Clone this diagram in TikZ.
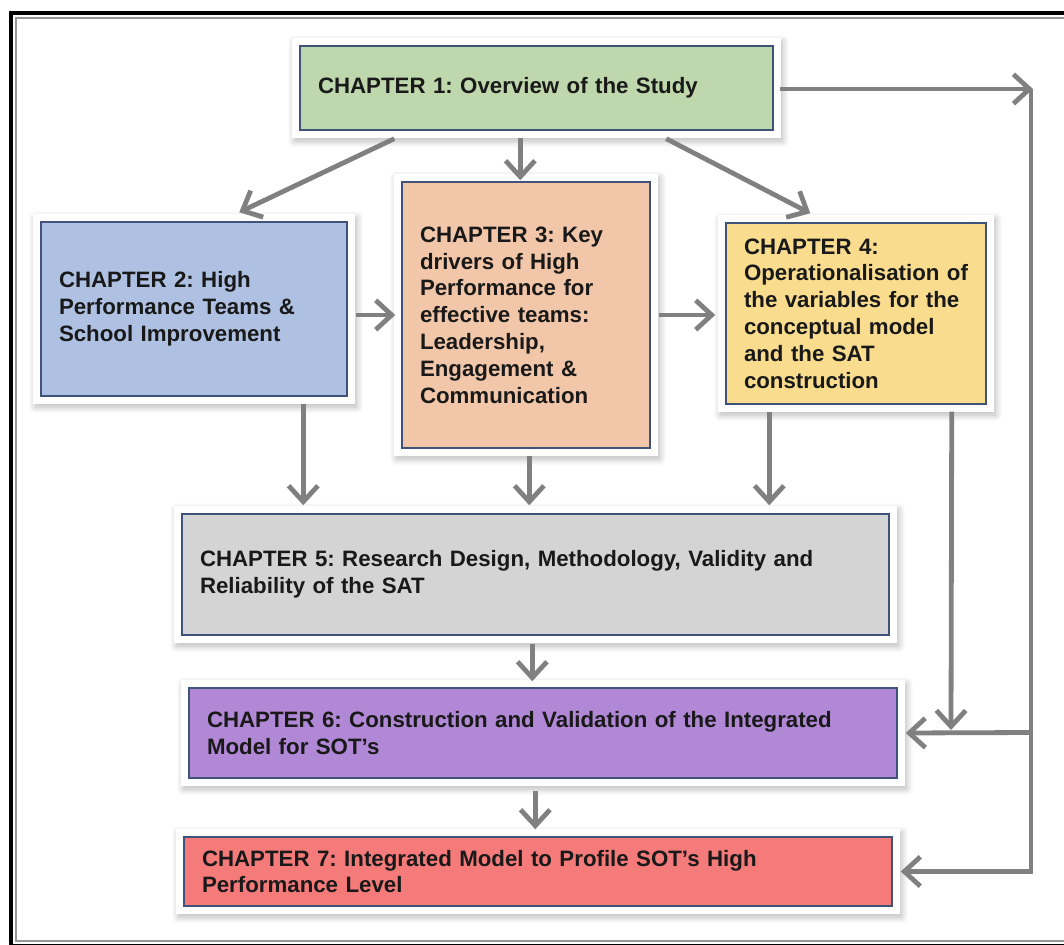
\documentclass[tikz,border=0pt]{standalone}
\usepackage{fontspec}
\setmainfont{Liberation Sans}
\usetikzlibrary{arrows.meta,calc,backgrounds,shadows.blur}

\definecolor{boxedge}{RGB}{62,82,122}
\definecolor{arrowgray}{RGB}{128,128,128}
\definecolor{textcol}{RGB}{25,25,25}
\definecolor{framegray}{RGB}{150,150,150}
\definecolor{chgreen}{RGB}{190,215,172}
\definecolor{chblue}{RGB}{174,193,226}
\definecolor{chpeach}{RGB}{242,198,168}
\definecolor{chyellow}{RGB}{249,220,142}
\definecolor{chgray}{RGB}{212,212,212}
\definecolor{chpurple}{RGB}{177,136,214}
\definecolor{chred}{RGB}{245,122,122}

\begin{document}
\begin{tikzpicture}[x=0.75pt,y=-0.75pt,
  chap/.style={draw=boxedge, line width=1.1pt, inner xsep=13.5pt, inner ysep=0pt,
    align=left, text=textcol,
    font=\fontsize{16.7}{20.1}\selectfont\bfseries\frenchspacing},
  arr/.style={draw=arrowgray, line width=3.6pt,
    -{Straight Barb[length=12pt,width=22pt]}},
  halo/.style={fill=white, blur shadow={shadow xshift=1.5pt, shadow yshift=-2.5pt,
    shadow blur radius=5pt, shadow blur steps=10, shadow opacity=28}}]
\useasboundingbox (0,0) rectangle (1064,945);
\clip (0,0) rectangle (1064,945);

% page frame
\draw[line width=3pt, black] (11,13) rectangle (1080,946);
\draw[line width=1.5pt, framegray] (16,18) rectangle (1075,941);

% chapter boxes
\node[chap, fill=chgreen, minimum width=354.75pt, minimum height=63pt, text width=327.75pt]
  (b1) at (536.5,88) {CHAPTER 1: Overview of the Study};
\node[chap, fill=chblue, minimum width=229.5pt, minimum height=130.5pt, text width=202.5pt]
  (b2) at (194,309) {CHAPTER 2: High\\Performance Teams \&\\School Improvement};
\node[chap, fill=chpeach, minimum width=186pt, minimum height=199.5pt, text width=159pt]
  (b3) at (526,315) {CHAPTER 3: Key\\drivers of High\\Performance for\\effective teams:\\Leadership,\\Engagement \&\\Communication};
\node[chap, fill=chyellow, minimum width=195pt, minimum height=135.75pt, text width=168pt]
  (b4) at (856,313.5) {CHAPTER 4:\\Operationalisation of\\the variables for the\\conceptual model\\and the SAT\\construction};
\node[chap, fill=chgray, minimum width=530.25pt, minimum height=90.75pt, text width=503.25pt]
  (b5) at (535.5,574.5) {CHAPTER 5: Research Design, Methodology, Validity and\\Reliability of the SAT};
\node[chap, fill=chpurple, minimum width=531pt, minimum height=67.5pt, text width=504pt]
  (b6) at (543,733) {CHAPTER 6: Construction and Validation of the Integrated\\Model for SOT’s};
\node[chap, fill=chred, minimum width=531pt, minimum height=51.75pt, text width=504pt]
  (b7) at (538,871.5) {CHAPTER 7: Integrated Model to Profile SOT’s High\\Performance Level};

% white rim with soft shadow behind each box
\begin{scope}[on background layer]
  \foreach \n in {b1,b2,b3,b4,b5,b6,b7}
    \path[halo] ($(\n.south west)+(-7,7)$) rectangle ($(\n.north east)+(7,-7)$);
\end{scope}

% connectors
\draw[arr] ($(b1.south west)+(95,8)$) -- ($(b2.north west)+(199,-9)$);
\draw[arr] ($(b1.south west)+(221,7)$) -- ($(b3.north west)+(119,-1)$);
\draw[arr] ($(b1.south west)+(367,8)$) -- ($(b4.north west)+(85,-9)$);
\draw[arr] ($(b2.east)+(8,6)$) -- ($(b3.west)+(-6,0)$);
\draw[arr] ($(b3.east)+(8,0)$) -- ($(b4.west)+(-10,1.5)$);
\draw[arr] ($(b2.south west)+(263,7)$) -- ($(b5.north west)+(122,-8)$);
\draw[arr] ($(b3.south west)+(128,7)$) -- ($(b5.north west)+(348,-8)$);
\draw[arr] ($(b4.south west)+(44,7)$) -- ($(b5.north west)+(588,-8)$);
\draw[arr] ($(b5.south west)+(351,8)$) -- ($(b6.north west)+(344,-6)$);
\draw[arr] ($(b6.south west)+(347,12)$) -- ($(b7.north west)+(352,-7)$);

% return path on the right
\coordinate (corner) at (1033,89);
\coordinate (join6) at (1031,732.5);
\coordinate (drop4) at (951,730);
\draw[arr] ($(b1.east)+(6,1)$) -- (corner);
\draw[arr] ($(corner)+(-2,0)$) |- ($(b7.east)+(8,0)$);
\draw[arr] (join6) -- ($(b6.east)+(8,0)$);
\draw[arr] ($(b4.south east)+(-35,7)$) -- (drop4);
\end{tikzpicture}
\end{document}
